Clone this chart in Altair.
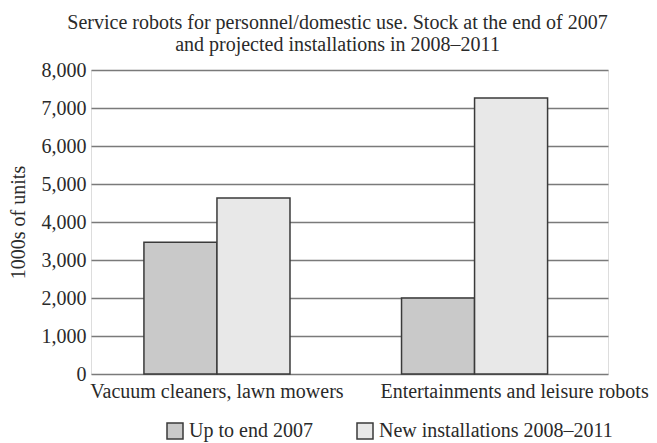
import altair as alt
import pandas as pd

categories = ["Vacuum cleaners, lawn mowers", "Entertainments and leisure robots"]
series = ["Up to end 2007", "New installations 2008–2011"]
up_to_2007 = [3470, 2000]
new_2008_2011 = [4630, 7260]

rows = []
for i, c in enumerate(categories):
    rows.append({"category": c, "series": series[0], "value": up_to_2007[i]})
    rows.append({"category": c, "series": series[1], "value": new_2008_2011[i]})
df = pd.DataFrame(rows)

FONT = "Liberation Serif"
TXT = "#2a2a2a"

chart = alt.Chart(df).mark_bar(stroke="#3a3a3a", strokeWidth=1.5).encode(
    x=alt.X("category:N", sort=categories, title=None,
            scale=alt.Scale(paddingInner=0.433, paddingOuter=0.22, align=0.467),
            axis=alt.Axis(labelAngle=0, labelFontSize=20, labelPadding=7, ticks=False,
                          domain=False, labelColor=TXT, labelFont=FONT, labelLimit=0,
                          labelOffset={"condition": {"test": "datum.value == '" + categories[1] + "'",
                                                     "value": 40}, "value": 0})),
    xOffset=alt.XOffset("series:N", sort=series, scale=alt.Scale(paddingInner=0, paddingOuter=0)),
    y=alt.Y("value:Q", title="1000s of units",
            scale=alt.Scale(domain=[0, 8000]),
            axis=alt.Axis(values=list(range(0, 8001, 1000)), format=",d", ticks=False,
                          domain=False, labelFontSize=20, labelPadding=5,
                          labelColor=TXT, labelFont=FONT,
                          titleFontSize=20, titleFont=FONT, titleFontWeight="normal",
                          titleColor=TXT, titlePadding=13,
                          grid=True, gridColor="#7a7a7a", gridWidth=1.6)),
    color=alt.Color("series:N", sort=series,
                    scale=alt.Scale(domain=series, range=["#c9c9c9", "#e8e8e8"]),
                    legend=alt.Legend(title=None, orient="none", direction="horizontal",
                                      legendX=74, legendY=351,
                                      symbolType="square", symbolSize=256,
                                      symbolStrokeColor="#3a3a3a", symbolStrokeWidth=1.5,
                                      labelFontSize=20, labelFont=FONT, labelColor=TXT,
                                      labelLimit=0,
                                      labelOffset=4, columnPadding=41, symbolOpacity=1)),
).properties(
    width=517, height=304,
    title=alt.TitleParams(
        text=["Service robots for personnel/domestic use. Stock at the end of 2007",
              "and projected installations in 2008–2011"],
        font=FONT, fontSize=20, fontWeight="normal", color=TXT,
        anchor="middle", dx=-12, offset=5, lineHeight=22),
    autosize=alt.AutoSizeParams(type="none"),
    padding={"left": 91, "top": 70, "right": 49, "bottom": 69},
).configure_view(stroke=None).configure(background="white")

chart.save("out.html", embed_options={"renderer": "svg", "actions": False})
